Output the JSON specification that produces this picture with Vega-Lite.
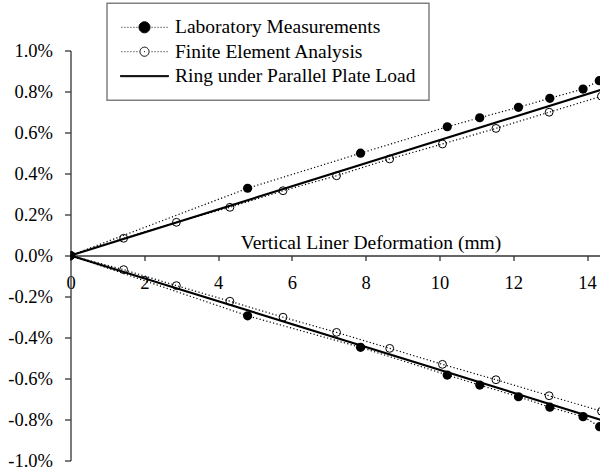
{
  "$schema": "https://vega.github.io/schema/vega-lite/v6.json",
  "width": 530,
  "height": 410,
  "autosize": {"type": "none"},
  "padding": {"left": 70.5, "top": 50.5, "right": 0, "bottom": 9.5},
  "background": "white",
  "config": {
    "view": {"stroke": null},
    "font": "Liberation Serif",
    "axis": {
      "grid": false,
      "domainColor": "#333333",
      "domainWidth": 1.3,
      "tickColor": "#333333",
      "tickWidth": 1.3,
      "labelColor": "black",
      "labelFont": "Liberation Serif",
      "labelFontSize": 18.5,
      "titleFont": "Liberation Serif",
      "titleFontWeight": "normal",
      "titleColor": "black"
    }
  },
  "data": {
    "values": [
      {"series": "Laboratory Measurements", "branch": "upper", "x": 0, "y": 0},
      {"series": "Laboratory Measurements", "branch": "upper", "x": 4.80, "y": 0.00328},
      {"series": "Laboratory Measurements", "branch": "upper", "x": 7.86, "y": 0.00499},
      {"series": "Laboratory Measurements", "branch": "upper", "x": 10.21, "y": 0.00628},
      {"series": "Laboratory Measurements", "branch": "upper", "x": 11.09, "y": 0.00672},
      {"series": "Laboratory Measurements", "branch": "upper", "x": 12.14, "y": 0.00723},
      {"series": "Laboratory Measurements", "branch": "upper", "x": 12.99, "y": 0.00767},
      {"series": "Laboratory Measurements", "branch": "upper", "x": 13.89, "y": 0.00812},
      {"series": "Laboratory Measurements", "branch": "upper", "x": 14.33, "y": 0.00853},
      {"series": "Laboratory Measurements", "branch": "lower", "x": 0, "y": 0},
      {"series": "Laboratory Measurements", "branch": "lower", "x": 4.80, "y": -0.00294},
      {"series": "Laboratory Measurements", "branch": "lower", "x": 7.86, "y": -0.00448},
      {"series": "Laboratory Measurements", "branch": "lower", "x": 10.21, "y": -0.00583},
      {"series": "Laboratory Measurements", "branch": "lower", "x": 11.09, "y": -0.00632},
      {"series": "Laboratory Measurements", "branch": "lower", "x": 12.14, "y": -0.00689},
      {"series": "Laboratory Measurements", "branch": "lower", "x": 12.99, "y": -0.00740},
      {"series": "Laboratory Measurements", "branch": "lower", "x": 13.89, "y": -0.00786},
      {"series": "Laboratory Measurements", "branch": "lower", "x": 14.34, "y": -0.00835},
      {"series": "Finite Element Analysis", "branch": "upper", "x": 0, "y": 0},
      {"series": "Finite Element Analysis", "branch": "upper", "x": 1.44, "y": 0.00084},
      {"series": "Finite Element Analysis", "branch": "upper", "x": 2.87, "y": 0.00162},
      {"series": "Finite Element Analysis", "branch": "upper", "x": 4.32, "y": 0.00235},
      {"series": "Finite Element Analysis", "branch": "upper", "x": 5.76, "y": 0.00316},
      {"series": "Finite Element Analysis", "branch": "upper", "x": 7.21, "y": 0.00389},
      {"series": "Finite Element Analysis", "branch": "upper", "x": 8.65, "y": 0.00471},
      {"series": "Finite Element Analysis", "branch": "upper", "x": 10.08, "y": 0.00544},
      {"series": "Finite Element Analysis", "branch": "upper", "x": 11.53, "y": 0.00620},
      {"series": "Finite Element Analysis", "branch": "upper", "x": 12.97, "y": 0.00699},
      {"series": "Finite Element Analysis", "branch": "upper", "x": 14.39, "y": 0.00777},
      {"series": "Finite Element Analysis", "branch": "lower", "x": 0, "y": 0},
      {"series": "Finite Element Analysis", "branch": "lower", "x": 1.44, "y": -0.00069},
      {"series": "Finite Element Analysis", "branch": "lower", "x": 2.87, "y": -0.00147},
      {"series": "Finite Element Analysis", "branch": "lower", "x": 4.32, "y": -0.00223},
      {"series": "Finite Element Analysis", "branch": "lower", "x": 5.76, "y": -0.00301},
      {"series": "Finite Element Analysis", "branch": "lower", "x": 7.21, "y": -0.00375},
      {"series": "Finite Element Analysis", "branch": "lower", "x": 8.65, "y": -0.00453},
      {"series": "Finite Element Analysis", "branch": "lower", "x": 10.08, "y": -0.00531},
      {"series": "Finite Element Analysis", "branch": "lower", "x": 11.53, "y": -0.00606},
      {"series": "Finite Element Analysis", "branch": "lower", "x": 12.97, "y": -0.00684},
      {"series": "Finite Element Analysis", "branch": "lower", "x": 14.39, "y": -0.00760},
      {"series": "Ring under Parallel Plate Load", "branch": "upper", "x": 0, "y": 0},
      {"series": "Ring under Parallel Plate Load", "branch": "upper", "x": 14.4, "y": 0.00810},
      {"series": "Ring under Parallel Plate Load", "branch": "lower", "x": 0, "y": 0},
      {"series": "Ring under Parallel Plate Load", "branch": "lower", "x": 14.4, "y": -0.00803}
    ]
  },
  "encoding": {
    "x": {
      "field": "x",
      "type": "quantitative",
      "scale": {"domain": [0, 14.363], "nice": false, "zero": false},
      "axis": {
        "values": [0, 2, 4, 6, 8, 10, 12, 14],
        "offset": -205,
        "tickSize": 5,
        "labelPadding": 13,
        "labelFlush": false,
        "labelOverlap": false,
        "title": "Vertical Liner Deformation (mm)",
        "titleFontSize": 19.5,
        "titleX": 300,
        "titleY": -7,
        "titleAlign": "center",
        "titleBaseline": "alphabetic"
      }
    },
    "y": {
      "field": "y",
      "type": "quantitative",
      "scale": {"domain": [-0.01, 0.01], "nice": false, "zero": false},
      "axis": {
        "values": [-0.01, -0.008, -0.006, -0.004, -0.002, 0, 0.002, 0.004, 0.006, 0.008, 0.01],
        "labelExpr": "replace(format(datum.value, '.1%'), '\u2212', '-')",
        "tickSize": 6,
        "labelPadding": 12,
        "title": null
      }
    }
  },
  "layer": [
    {
      "transform": [{"filter": "datum.series !== 'Ring under Parallel Plate Load'"}],
      "mark": {"type": "line", "strokeDash": [1.2, 2.3], "strokeWidth": 1.2, "clip": true},
      "encoding": {
        "detail": {"field": "branch"},
        "color": {
          "field": "series",
          "type": "nominal",
          "scale": {
            "domain": ["Laboratory Measurements", "Finite Element Analysis", "Ring under Parallel Plate Load"],
            "range": ["black", "black", "black"]
          },
          "legend": {
            "orient": "none",
            "legendX": 36.5,
            "legendY": -47.2,
            "title": null,
            "padding": 13,
            "strokeColor": "#808080",
            "fillColor": "white",
            "symbolSize": 2304,
            "symbolStrokeWidth": 1,
            "symbolOffset": 0,
            "labelOffset": 6,
            "labelFont": "Liberation Serif",
            "labelFontSize": 19.5,
            "labelColor": "black",
            "labelLimit": 400,
            "clipHeight": 22,
            "rowPadding": 2.4,
            "encode": {
              "symbols": {
                "update": {
                  "shape": {"signal": "datum.value === 'Ring under Parallel Plate Load' ? 'M-1,-0.025L1,-0.025L1,0.025L-1,0.025Z' : datum.value === 'Laboratory Measurements' ? 'M-0.96,0h0.04M-0.835,0h0.04M-0.71,0h0.04M-0.585,0h0.04M-0.46,0h0.04M-0.335,0h0.04M0.295,0h0.04M0.42,0h0.04M0.545,0h0.04M0.67,0h0.04M0.795,0h0.04M0.92,0h0.04M-0.23,0A0.23,0.23,0,1,0,0.23,0A0.23,0.23,0,1,0,-0.23,0Z' : 'M-0.96,0h0.04M-0.835,0h0.04M-0.71,0h0.04M-0.585,0h0.04M-0.46,0h0.04M-0.335,0h0.04M0.295,0h0.04M0.42,0h0.04M0.545,0h0.04M0.67,0h0.04M0.795,0h0.04M0.92,0h0.04M-0.02,0h0.04M-0.19,0A0.19,0.19,0,1,0,0.19,0A0.19,0.19,0,1,0,-0.19,0Z'"},
                  "fill": {"signal": "datum.value === 'Finite Element Analysis' ? 'transparent' : 'black'"},
                  "stroke": {"value": "black"},
                  "strokeWidth": {"value": 1},
                  "strokeDash": {"value": [1, 0]},
                  "size": {"value": 2304},
                  "opacity": {"value": 1}
                }
              },
              "legend": {"update": {"strokeWidth": {"value": 1.5}}}
            }
          }
        }
      }
    },
    {
      "transform": [{"filter": "datum.series === 'Ring under Parallel Plate Load'"}],
      "mark": {"type": "line", "strokeWidth": 2.2, "color": "black", "clip": true},
      "encoding": {"detail": {"field": "branch"}}
    },
    {
      "transform": [{"filter": "datum.series === 'Finite Element Analysis' && datum.x > 0"}],
      "mark": {"type": "point", "shape": "circle", "filled": false, "size": 62, "stroke": "black", "strokeWidth": 1, "opacity": 1, "clip": true},
      "encoding": {}
    },
    {
      "transform": [{"filter": "datum.series === 'Laboratory Measurements'"}],
      "mark": {"type": "point", "shape": "circle", "filled": true, "size": 85, "color": "black", "opacity": 1, "clip": true},
      "encoding": {}
    }
  ]
}
